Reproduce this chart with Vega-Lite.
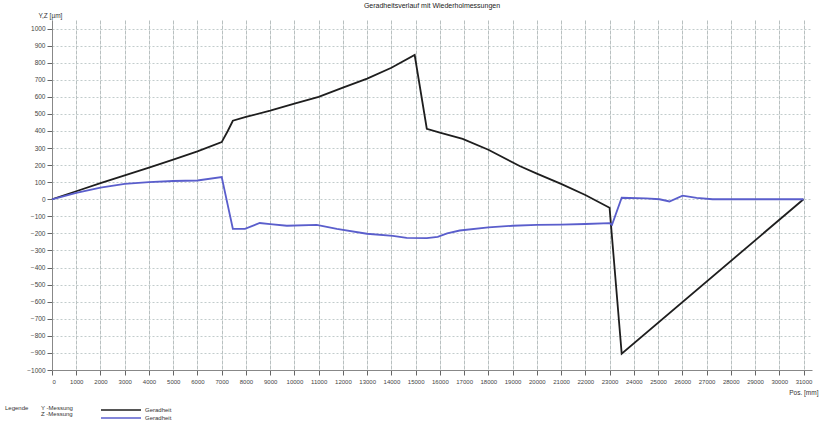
{
  "$schema": "https://vega.github.io/schema/vega-lite/v6.json",
  "width": 760,
  "height": 350,
  "autosize": {"type": "none"},
  "padding": {"left": 52, "top": 20, "right": 7, "bottom": 51},
  "background": "white",
  "config": {
    "view": {"stroke": null},
    "font": "Liberation Sans",
    "axisY": {
      "format": "d",
      "labelFontSize": 6.5,
      "labelColor": "#444444",
      "labelPadding": 2,
      "labelOverlap": false,
      "tickSize": 5,
      "tickColor": "#666666",
      "domainColor": "#888888",
      "grid": true,
      "gridColor": "#c2cccc",
      "gridDash": [2, 2],
      "titleAngle": 0,
      "titleFontSize": 6.5,
      "titleFontWeight": "normal",
      "titleColor": "#333333",
      "titleAlign": "left",
      "titleAnchor": null,
      "titleX": -14,
      "titleY": -5,
      "titleBaseline": "middle"
    }
  },
  "title": {"text": "Geradheitsverlauf mit Wiederholmessungen", "fontSize": 7, "fontWeight": "normal", "color": "#222222", "offset": 3},
  "datasets": {
    "lines": [
      {"x": 0, "y": 0, "s": "Y", "m": "Y -Messung"},
      {"x": 1000, "y": 47, "s": "Y", "m": "Y -Messung"},
      {"x": 2000, "y": 94, "s": "Y", "m": "Y -Messung"},
      {"x": 3000, "y": 140, "s": "Y", "m": "Y -Messung"},
      {"x": 4000, "y": 185, "s": "Y", "m": "Y -Messung"},
      {"x": 5000, "y": 232, "s": "Y", "m": "Y -Messung"},
      {"x": 6000, "y": 280, "s": "Y", "m": "Y -Messung"},
      {"x": 7000, "y": 335, "s": "Y", "m": "Y -Messung"},
      {"x": 7250, "y": 400, "s": "Y", "m": "Y -Messung"},
      {"x": 7460, "y": 460, "s": "Y", "m": "Y -Messung"},
      {"x": 8000, "y": 482, "s": "Y", "m": "Y -Messung"},
      {"x": 9000, "y": 519, "s": "Y", "m": "Y -Messung"},
      {"x": 10000, "y": 560, "s": "Y", "m": "Y -Messung"},
      {"x": 11000, "y": 600, "s": "Y", "m": "Y -Messung"},
      {"x": 12000, "y": 654, "s": "Y", "m": "Y -Messung"},
      {"x": 13000, "y": 707, "s": "Y", "m": "Y -Messung"},
      {"x": 14000, "y": 770, "s": "Y", "m": "Y -Messung"},
      {"x": 14960, "y": 845, "s": "Y", "m": "Y -Messung"},
      {"x": 15460, "y": 413, "s": "Y", "m": "Y -Messung"},
      {"x": 16000, "y": 390, "s": "Y", "m": "Y -Messung"},
      {"x": 16940, "y": 354, "s": "Y", "m": "Y -Messung"},
      {"x": 18000, "y": 290, "s": "Y", "m": "Y -Messung"},
      {"x": 19290, "y": 195, "s": "Y", "m": "Y -Messung"},
      {"x": 20000, "y": 150, "s": "Y", "m": "Y -Messung"},
      {"x": 21000, "y": 90, "s": "Y", "m": "Y -Messung"},
      {"x": 22000, "y": 25, "s": "Y", "m": "Y -Messung"},
      {"x": 23000, "y": -50, "s": "Y", "m": "Y -Messung"},
      {"x": 23500, "y": -905, "s": "Y", "m": "Y -Messung"},
      {"x": 31000, "y": 0, "s": "Y", "m": "Y -Messung"},
      {"x": 0, "y": 0, "s": "Z", "m": "Z -Messung"},
      {"x": 1000, "y": 38, "s": "Z", "m": "Z -Messung"},
      {"x": 2000, "y": 68, "s": "Z", "m": "Z -Messung"},
      {"x": 3000, "y": 90, "s": "Z", "m": "Z -Messung"},
      {"x": 4000, "y": 100, "s": "Z", "m": "Z -Messung"},
      {"x": 5000, "y": 107, "s": "Z", "m": "Z -Messung"},
      {"x": 6000, "y": 110, "s": "Z", "m": "Z -Messung"},
      {"x": 7000, "y": 130, "s": "Z", "m": "Z -Messung"},
      {"x": 7460, "y": -173, "s": "Z", "m": "Z -Messung"},
      {"x": 7960, "y": -173, "s": "Z", "m": "Z -Messung"},
      {"x": 8570, "y": -139, "s": "Z", "m": "Z -Messung"},
      {"x": 9000, "y": -145, "s": "Z", "m": "Z -Messung"},
      {"x": 9690, "y": -155, "s": "Z", "m": "Z -Messung"},
      {"x": 10920, "y": -150, "s": "Z", "m": "Z -Messung"},
      {"x": 11750, "y": -173, "s": "Z", "m": "Z -Messung"},
      {"x": 12990, "y": -202, "s": "Z", "m": "Z -Messung"},
      {"x": 14060, "y": -214, "s": "Z", "m": "Z -Messung"},
      {"x": 14630, "y": -226, "s": "Z", "m": "Z -Messung"},
      {"x": 15460, "y": -228, "s": "Z", "m": "Z -Messung"},
      {"x": 15910, "y": -220, "s": "Z", "m": "Z -Messung"},
      {"x": 16300, "y": -200, "s": "Z", "m": "Z -Messung"},
      {"x": 16820, "y": -183, "s": "Z", "m": "Z -Messung"},
      {"x": 18000, "y": -165, "s": "Z", "m": "Z -Messung"},
      {"x": 19000, "y": -155, "s": "Z", "m": "Z -Messung"},
      {"x": 20000, "y": -150, "s": "Z", "m": "Z -Messung"},
      {"x": 21000, "y": -148, "s": "Z", "m": "Z -Messung"},
      {"x": 22000, "y": -145, "s": "Z", "m": "Z -Messung"},
      {"x": 23000, "y": -140, "s": "Z", "m": "Z -Messung"},
      {"x": 23100, "y": -150, "s": "Z", "m": "Z -Messung"},
      {"x": 23500, "y": 9, "s": "Z", "m": "Z -Messung"},
      {"x": 24500, "y": 5, "s": "Z", "m": "Z -Messung"},
      {"x": 25060, "y": 0, "s": "Z", "m": "Z -Messung"},
      {"x": 25470, "y": -13, "s": "Z", "m": "Z -Messung"},
      {"x": 26010, "y": 21, "s": "Z", "m": "Z -Messung"},
      {"x": 26590, "y": 8, "s": "Z", "m": "Z -Messung"},
      {"x": 27250, "y": 0, "s": "Z", "m": "Z -Messung"},
      {"x": 31000, "y": 0, "s": "Z", "m": "Z -Messung"}
    ]
  },
  "layer": [
    {
      "mark": {"type": "rule", "color": "#9c9c9c", "strokeWidth": 2},
      "encoding": {
        "y": {
          "datum": 0, "type": "quantitative",
          "scale": {"domain": [-1000, 1050], "nice": false, "zero": false},
          "axis": {"title": "Y,Z [µm]", "values": [-1000,-900,-800,-700,-600,-500,-400,-300,-200,-100,0,100,200,300,400,500,600,700,800,900,1000], "labelOverlap": false}
        }
      }
    },
    {
      "data": {"name": "lines"},
      "mark": {"type": "line", "strokeWidth": 1.8},
      "encoding": {
        "x": {
          "field": "x", "type": "quantitative",
          "scale": {"domain": [0, 31350], "nice": false, "zero": false},
          "axis": {
            "title": "Pos. [mm]",
            "values": [0,1000,2000,3000,4000,5000,6000,7000,8000,9000,10000,11000,12000,13000,14000,15000,16000,17000,18000,19000,20000,21000,22000,23000,24000,25000,26000,27000,28000,29000,30000,31000],
            "format": "d",
            "labelAngle": 0,
            "labelFontSize": 6,
            "labelColor": "#444444",
            "labelPadding": 3,
            "labelOverlap": false,
            "tickSize": 5,
            "tickColor": "#666666",
            "domainColor": "#888888",
            "grid": true,
            "gridColor": "#b8c0c0",
            "gridDash": [4, 1],
            "titleFontSize": 6.5,
            "titleFontWeight": "normal",
            "titleColor": "#333333",
            "titleAlign": "right",
            "titleAnchor": null,
            "titleX": 766,
            "titleY": 22,
            "titleBaseline": "middle"
          }
        },
        "y": {
          "field": "y", "type": "quantitative",
          "scale": {"domain": [-1000, 1050], "nice": false, "zero": false},
          "axis": {"title": "Y,Z [µm]", "values": [-1000,-900,-800,-700,-600,-500,-400,-300,-200,-100,0,100,200,300,400,500,600,700,800,900,1000], "labelOverlap": false}
        },
        "color": {
          "field": "s", "type": "nominal",
          "scale": {"domain": ["Y", "Z"], "range": ["#1e1e1e", "#5a5ecc"]},
          "legend": {
            "orient": "none", "legendX": 64, "legendY": 385,
            "title": null,
            "symbolType": "M-5,0H5", "symbolSize": 64, "symbolStrokeWidth": 1.5,
            "labelExpr": "'Geradheit'", "labelFontSize": 6, "labelColor": "#333333",
            "labelOffset": 19, "rowPadding": 0
          }
        },
        "opacity": {
          "field": "m", "type": "nominal",
          "scale": {"domain": ["Y -Messung", "Z -Messung"], "range": [1, 1]},
          "legend": {
            "orient": "none", "legendX": -47, "legendY": 385,
            "title": "Legende", "titleOrient": "left", "titleAnchor": "start", "titleBaseline": "top", "titleFontSize": 6, "titleFontWeight": "normal", "titleColor": "#333333", "titlePadding": 6,
            "symbolOpacity": 0, "symbolSize": 1, "symbolStrokeWidth": 0,
            "labelFontSize": 6, "labelColor": "#333333", "labelOffset": 0, "rowPadding": 0
          }
        }
      }
    }
  ]
}
